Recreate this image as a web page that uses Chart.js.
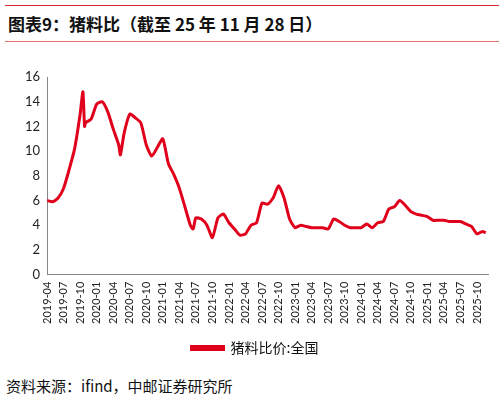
<!DOCTYPE html>
<html><head><meta charset="utf-8">
<script src="https://cdn.jsdelivr.net/npm/chart.js@4"></script>
<style>
body{margin:0;width:504px;height:407px;background:#fff;font-family:"Noto Sans CJK SC",sans-serif;position:relative;overflow:hidden}
#title{position:absolute;left:5px;top:5px;width:494px;height:37px;border-top:1px solid #d9262c;border-bottom:1px solid #e57373;font-size:17px;font-weight:bold;line-height:36px;color:#111;padding-left:3px;box-sizing:border-box}
#wrap{position:absolute;left:0;top:50px;width:504px;height:315px}
#src{position:absolute;left:6px;top:375px;font-size:15px;color:#111}
</style></head><body>
<div id="title">图表9：猪料比（截至 25 年 11 月 28 日）</div>
<div id="wrap"><canvas id="c"></canvas></div>
<div id="src">资料来源：ifind，中邮证券研究所</div>
<script>
// month index, 0 = 2019-04
const months = [0,1,2,3,4,5,6,6.5,6.8,7,8,9,10,11,12,13,13.3,14,15,16,17,18,19,20,21,22,23,24,25,26,26.5,27,28,29,30,31,32,33,34,35,36,37,38,39,40,41,42,43,44,45,46,47,48,49,50,51,52,53,54,55,56,57,58,59,60,61,62,63,64,65,66,67,68,69,70,71,72,73,74,75,76,77,78,79,79.6];
const ratio = [6.0,5.9,6.2,7.0,8.5,10.2,13.0,14.8,12.0,12.3,12.6,13.8,14.0,13.2,11.8,10.5,9.7,11.5,13.0,12.7,12.3,10.5,9.6,10.3,11.0,9.0,8.1,7.0,5.5,4.0,3.7,4.6,4.5,4.0,3.0,4.6,4.9,4.2,3.7,3.2,3.3,4.0,4.2,5.8,5.7,6.2,7.2,6.2,4.5,3.8,4.0,3.9,3.8,3.8,3.8,3.7,4.5,4.3,4.0,3.8,3.8,3.8,4.1,3.8,4.2,4.3,5.3,5.5,6.0,5.6,5.1,4.9,4.8,4.7,4.4,4.4,4.4,4.3,4.3,4.3,4.1,3.9,3.3,3.5,3.4];
const tickMonths = [0,3,6,9,12,15,18,21,24,27,30,33,36,39,42,45,48,51,54,57,60,63,66,69,72,75,78];
const startYear = 2019, startMonth = 4;

function monthLabel(i) {
    const m = startMonth - 1 + i;
    const y = startYear + Math.floor(m / 12);
    return y + '-' + String(m % 12 + 1).padStart(2, '0');
}

new Chart(document.getElementById('c'), {
    type: 'line',
    data: {
        datasets: [{
            label: '猪料比价:全国',
            data: months.map((m, i) => ({x: m, y: ratio[i]})),
            borderColor: '#e0001b',
            backgroundColor: '#e0001b',
            borderWidth: 3,
            pointRadius: 0,
            tension: 0.2
        }]
    },
    options: {
        responsive: true,
        maintainAspectRatio: false,
        animation: false,
        layout: {padding: {left: 22, right: 16, top: 27}},
        scales: {
            x: {
                type: 'linear', min: 0, max: 80,
                afterBuildTicks: axis => { axis.ticks = tickMonths.map(v => ({value: v})); },
                grid: {display: false, drawTicks: true, tickLength: 4, color: '#888'},
                border: {color: '#888'},
                ticks: {
                    autoSkip: false, maxRotation: 90, minRotation: 90,
                    color: '#222', font: {size: 11, family: 'Lato'},
                    callback: v => monthLabel(v)
                }
            },
            y: {
                min: 0, max: 16,
                grid: {display: false, tickLength: 4},
                border: {color: '#888'},
                ticks: {stepSize: 2, color: '#222', font: {size: 13, family: 'Lato'}}
            }
        },
        plugins: {
            legend: {
                position: 'bottom',
                labels: {boxWidth: 32, boxHeight: 3, padding: 14, color: '#111', font: {size: 14, family: 'Noto Sans CJK SC'}}
            },
            tooltip: {enabled: false}
        }
    }
});
</script>
</body></html>
